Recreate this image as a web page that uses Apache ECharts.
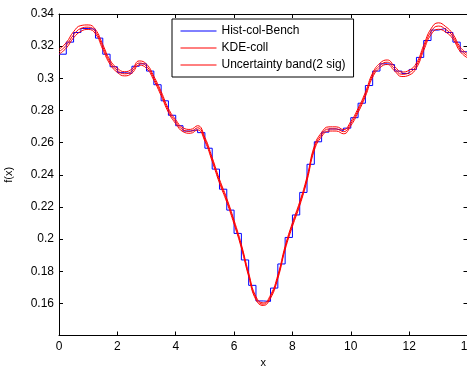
<!DOCTYPE html>
<html>
<head>
<meta charset="utf-8">
<script src="https://cdn.jsdelivr.net/npm/echarts@6/dist/echarts.min.js"></script>
<style>
  html, body { margin: 0; padding: 0; background: #fff; }
  #chart { width: 467px; height: 366px; }
</style>
</head>
<body>
<div id="chart"></div>
<script>
// x grid for the KDE curves (also the histogram bin edges, width 0.25)
const xGrid = Array.from({ length: 57 }, (_, i) => i * 0.25)

const kde = [
  0.3165, 0.3205, 0.3270, 0.3310, 0.3318, 0.3290, 0.3195, 0.3100, 0.3050, 0.3028,
  0.3045, 0.3095, 0.3075, 0.3000, 0.2905, 0.2800, 0.2730, 0.2680, 0.2670, 0.2692,
  0.2620, 0.2495, 0.2360, 0.2241, 0.2105, 0.1955, 0.1778, 0.1632, 0.1595, 0.1642,
  0.1765, 0.1945, 0.2090, 0.2220, 0.2375, 0.2565, 0.2650, 0.2685, 0.2685, 0.2668,
  0.2718, 0.2800, 0.2900, 0.3020, 0.3080, 0.3100, 0.3060, 0.3025, 0.3035, 0.3080,
  0.3190, 0.3290, 0.3325, 0.3305, 0.3260, 0.3180, 0.3140,
]

const bandUpper = [
  0.3180, 0.3222, 0.3290, 0.3328, 0.3332, 0.3303, 0.3210, 0.3113, 0.3063, 0.3041,
  0.3058, 0.3108, 0.3088, 0.3013, 0.2918, 0.2812, 0.2742, 0.2692, 0.2682, 0.2705,
  0.2632, 0.2507, 0.2372, 0.2253, 0.2117, 0.1966, 0.1789, 0.1642, 0.1603, 0.1652,
  0.1776, 0.1956, 0.2102, 0.2232, 0.2387, 0.2578, 0.2663, 0.2698, 0.2698, 0.2681,
  0.2731, 0.2813, 0.2913, 0.3033, 0.3094, 0.3114, 0.3074, 0.3039, 0.3050, 0.3095,
  0.3206, 0.3308, 0.3345, 0.3322, 0.3275, 0.3194, 0.3153,
]

const bandLower = [
  0.3150, 0.3188, 0.3252, 0.3292, 0.3304, 0.3277, 0.3180, 0.3087, 0.3037, 0.3015,
  0.3032, 0.3082, 0.3062, 0.2987, 0.2892, 0.2788, 0.2718, 0.2668, 0.2658, 0.2679,
  0.2608, 0.2483, 0.2348, 0.2229, 0.2093, 0.1944, 0.1767, 0.1622, 0.1587, 0.1632,
  0.1754, 0.1934, 0.2078, 0.2208, 0.2363, 0.2552, 0.2637, 0.2672, 0.2672, 0.2655,
  0.2705, 0.2787, 0.2887, 0.3007, 0.3066, 0.3086, 0.3046, 0.3011, 0.3020, 0.3065,
  0.3174, 0.3272, 0.3305, 0.3288, 0.3245, 0.3166, 0.3127,
]

// histogram heights, one per bin [xGrid[i], xGrid[i+1]]
const hist = [
  0.3150, 0.3225, 0.3285, 0.3310, 0.3305, 0.3250, 0.3150, 0.3072, 0.3035, 0.3030,
  0.3075, 0.3090, 0.3045, 0.2960, 0.2860, 0.2770, 0.2705, 0.2672, 0.2680, 0.2662,
  0.2565, 0.2435, 0.2310, 0.2180, 0.2035, 0.1870, 0.1712, 0.1615, 0.1612, 0.1695,
  0.1845, 0.2010, 0.2150, 0.2290, 0.2465, 0.2605, 0.2665, 0.2685, 0.2675, 0.2690,
  0.2755, 0.2845, 0.2955, 0.3045, 0.3090, 0.3085, 0.3045, 0.3030, 0.3055, 0.3130,
  0.3235, 0.3300, 0.3310, 0.3285, 0.3225, 0.3165,
]

const xTicks = { min: 0, max: 14, interval: 2 }
const yTicks = { min: 0.14, max: 0.34, interval: 0.02 }

const font = 'Liberation Sans, Arial, sans-serif'
const chart = echarts.init(document.getElementById('chart'))

const histData = hist.map((v, i) => [xGrid[i], v])
histData.push([xGrid[hist.length], hist[hist.length - 1]])

const axisCommon = {
  type: 'value',
  axisLine: { show: true, onZero: false, lineStyle: { color: '#000', width: 1 } },
  axisTick: { show: true, inside: true, length: 4, lineStyle: { color: '#000' } },
  splitLine: { show: false },
}

const option = {
  animation: false,
  textStyle: { fontFamily: font },
  grid: { left: 59, top: 14, width: 408.5, height: 321.5, outerBoundsMode: 'none', containLabel: false },
  legend: {
    orient: 'vertical',
    left: 172,
    top: 19,
    padding: [6, 8, 6, 8],
    itemWidth: 36,
    itemHeight: 12,
    itemGap: 5,
    borderColor: '#000',
    borderWidth: 1,
    backgroundColor: '#fff',
    itemStyle: { opacity: 0 },
    lineStyle: { width: 1 },
    textStyle: { color: '#000', fontSize: 12, fontFamily: font },
    data: ['Hist-col-Bench', 'KDE-coll', 'Uncertainty band(2 sig)'],
  },
  xAxis: [
    {
      ...axisCommon,
      ...xTicks,
      position: 'bottom',
      name: 'x',
      nameLocation: 'middle',
      nameGap: 22,
      nameTextStyle: { color: '#000', fontSize: 11, fontFamily: font },
      axisLabel: { color: '#000', fontSize: 12, margin: 5, fontFamily: font },
    },
    {
      ...axisCommon,
      ...xTicks,
      position: 'top',
      axisLabel: { show: false },
    },
  ],
  yAxis: [
    {
      ...axisCommon,
      ...yTicks,
      position: 'left',
      name: 'f(x)',
      nameLocation: 'middle',
      nameGap: 45,
      nameTextStyle: { color: '#000', fontSize: 11, fontFamily: font },
      axisLabel: { color: '#000', fontSize: 12, margin: 5, showMinLabel: false, fontFamily: font },
    },
    {
      ...axisCommon,
      ...yTicks,
      position: 'right',
      axisLabel: { show: false },
    },
  ],
  series: [
    {
      name: 'Hist-col-Bench',
      type: 'line',
      step: 'end',
      data: histData,
      symbol: 'none',
      lineStyle: { color: '#0000ff', width: 1 },
      itemStyle: { color: '#0000ff' },
    },
    {
      name: 'KDE-coll',
      type: 'line',
      smooth: true,
      data: xGrid.map((x, i) => [x, kde[i]]),
      symbol: 'none',
      lineStyle: { color: '#ff0000', width: 1 },
      itemStyle: { color: '#ff0000' },
    },
    {
      name: 'Uncertainty band(2 sig)',
      type: 'line',
      smooth: true,
      data: xGrid.map((x, i) => [x, bandUpper[i]]),
      symbol: 'none',
      lineStyle: { color: '#ff0000', width: 1 },
      itemStyle: { color: '#ff0000' },
    },
    {
      name: 'Uncertainty band(2 sig)',
      type: 'line',
      smooth: true,
      data: xGrid.map((x, i) => [x, bandLower[i]]),
      symbol: 'none',
      lineStyle: { color: '#ff0000', width: 1 },
      itemStyle: { color: '#ff0000' },
    },
  ],
}

chart.setOption(option)
</script>
</body>
</html>
